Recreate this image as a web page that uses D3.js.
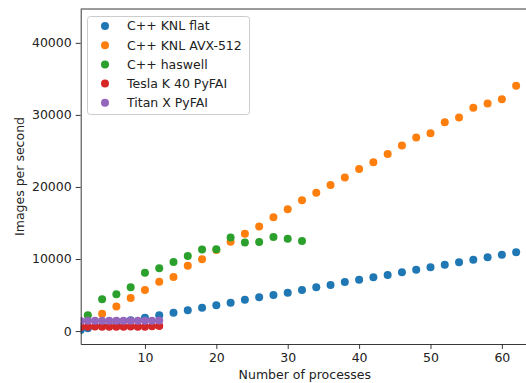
<!DOCTYPE html>
<html>
<head>
<meta charset="utf-8">
<script src="https://cdn.jsdelivr.net/npm/d3@7"></script>
<style>
  body { margin: 0; background: #fff; }
  text { font-family: "DejaVu Sans", sans-serif; fill: #222; }
</style>
</head>
<body>
<div id="chart"></div>
<script>
// series data (x = number of processes, y = images per second)
const knlFlatX = [1, 2, 4, 6, 8, 10, 12, 14, 16, 18, 20, 22, 24, 26, 28, 30, 32, 34, 36, 38, 40, 42, 44, 46, 48, 50, 52, 54, 56, 58, 60, 62];
const knlFlatY = [150, 375, 750, 1100, 1480, 1850, 2200, 2540, 2870, 3240, 3570, 3930, 4350, 4680, 5000, 5320, 5690, 6070, 6390, 6800, 7130, 7460, 7780, 8150, 8520, 8850, 9210, 9540, 9900, 10240, 10600, 10930];

const knlAvxX = [4, 6, 8, 10, 12, 14, 16, 18, 20, 22, 24, 26, 28, 30, 32, 34, 36, 38, 40, 42, 44, 46, 48, 50, 52, 54, 56, 58, 60, 62];
const knlAvxY = [2400, 3400, 4580, 5690, 6850, 7500, 9070, 9950, 11250, 12400, 13500, 14500, 15800, 16900, 18150, 19200, 20280, 21300, 22500, 23430, 24580, 25740, 26850, 27460, 28990, 29630, 31010, 31570, 32180, 34030];

const haswellX = [2, 4, 6, 8, 10, 12, 14, 16, 18, 20, 22, 24, 26, 28, 30, 32];
const haswellY = [2180, 4420, 5100, 6070, 8100, 8700, 9580, 10420, 11300, 11350, 13000, 12300, 12360, 13060, 12800, 12500];

const teslaX = [1, 2, 3, 4, 5, 6, 7, 8, 9, 10, 11, 12];
const teslaY = [560, 600, 620, 600, 610, 600, 600, 620, 580, 600, 650, 700];

const titanX = [1, 2, 3, 4, 5, 6, 7, 8, 9, 10, 11, 12];
const titanY = [1380, 1420, 1440, 1430, 1430, 1420, 1440, 1430, 1420, 1440, 1430, 1450];

const seriesNames = ["C++ KNL flat", "C++ KNL AVX-512", "C++ haswell", "Tesla K 40 PyFAI", "Titan X PyFAI"];
const seriesColors = ["#1f77b4", "#ff7f0e", "#2ca02c", "#d62728", "#9467bd"];

const xTicks = [10, 20, 30, 40, 50, 60];
const yTicks = [0, 10000, 20000, 30000, 40000];

const series = [
  d3.zip(knlFlatX, knlFlatY),
  d3.zip(knlAvxX, knlAvxY),
  d3.zip(haswellX, haswellY),
  d3.zip(teslaX, teslaY),
  d3.zip(titanX, titanY)
];

const width = 526, height = 383;
const margin = { top: 9, right: -3, bottom: 39, left: 80.7 };
const fontSize = "12.5px";

const svg = d3.select("#chart").append("svg")
  .attr("width", width)
  .attr("height", height);

const x = d3.scaleLinear()
  .domain([1, 63.8])
  .range([margin.left, width - margin.right]);
const y = d3.scaleLinear()
  .domain([-1800, 44700])
  .range([height - margin.bottom, margin.top]);

svg.append("clipPath").attr("id", "plotclip")
  .append("rect")
  .attr("x", margin.left).attr("y", margin.top)
  .attr("width", width - margin.right - margin.left)
  .attr("height", height - margin.bottom - margin.top);

// points
series.forEach((pts, i) => {
  svg.append("g")
    .attr("clip-path", "url(#plotclip)")
    .selectAll("circle")
    .data(pts)
    .enter()
    .append("circle")
    .attr("cx", d => x(d[0]))
    .attr("cy", d => y(d[1]))
    .attr("r", 4)
    .attr("fill", seriesColors[i]);
});

// axes
const xAxis = svg.append("g")
  .attr("transform", "translate(0," + (height - margin.bottom) + ")")
  .call(d3.axisBottom(x).tickValues(xTicks).tickSizeInner(5).tickSizeOuter(0).tickPadding(4));
const yAxis = svg.append("g")
  .attr("transform", "translate(" + margin.left + ",0)")
  .call(d3.axisLeft(y).tickValues(yTicks).tickFormat(d3.format("d")).tickSizeInner(5).tickSizeOuter(0).tickPadding(4));

[xAxis, yAxis].forEach(a => {
  a.selectAll("text").style("font-size", fontSize).attr("fill", "#222");
  a.selectAll("line").attr("stroke", "#222").attr("stroke-width", 0.9);
  a.select(".domain").attr("stroke", "#222").attr("stroke-width", 0.9);
});

// top spine
svg.append("line")
  .attr("x1", margin.left).attr("x2", width)
  .attr("y1", margin.top).attr("y2", margin.top)
  .attr("stroke", "#222").attr("stroke-width", 0.9);

// axis labels
svg.append("text")
  .attr("x", (margin.left + width - margin.right) / 2)
  .attr("y", 379)
  .attr("text-anchor", "middle")
  .style("font-size", fontSize)
  .text("Number of processes");

svg.append("text")
  .attr("transform", "translate(24," + ((margin.top + height - margin.bottom) / 2) + ") rotate(-90)")
  .attr("text-anchor", "middle")
  .style("font-size", fontSize)
  .text("Images per second");

// legend
const legend = svg.append("g");
legend.append("rect")
  .attr("x", 87.5).attr("y", 16.5)
  .attr("width", 162).attr("height", 98)
  .attr("rx", 3)
  .attr("fill", "#fff").attr("fill-opacity", 0.8)
  .attr("stroke", "#ccc");

seriesNames.forEach((name, i) => {
  const ly = 26 + i * 19.2;
  legend.append("circle")
    .attr("cx", 105).attr("cy", ly).attr("r", 4)
    .attr("fill", seriesColors[i]);
  legend.append("text")
    .attr("x", 127).attr("y", ly)
    .attr("dy", "0.35em")
    .style("font-size", fontSize)
    .text(name);
});
</script>
</body>
</html>
